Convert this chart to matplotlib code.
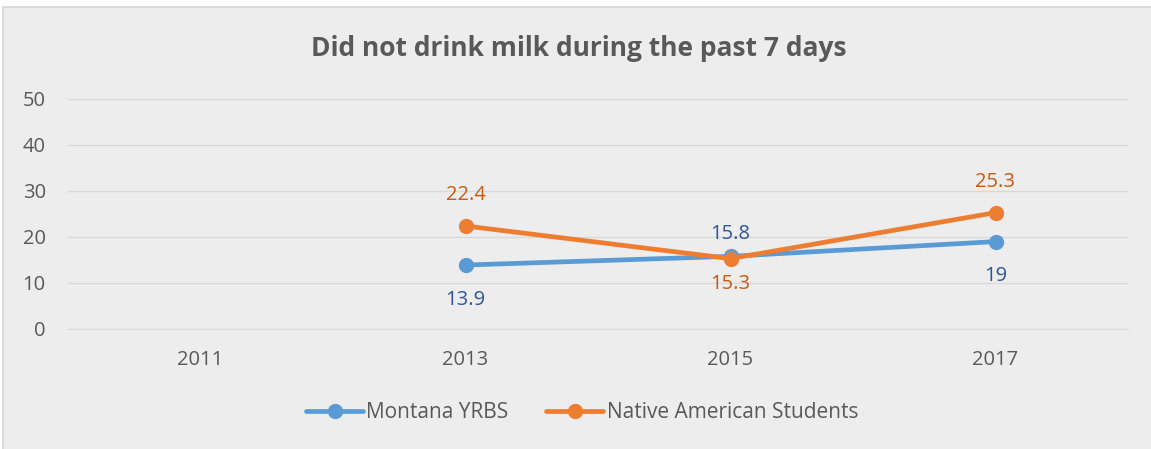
import matplotlib.pyplot as plt
import numpy as np
from matplotlib.patches import Rectangle

plt.rcParams['font.family'] = ['Open Sans', 'DejaVu Sans']

years = ['2011', '2013', '2015', '2017']
montana = [np.nan, 13.9, 15.8, 19]
native = [np.nan, 22.4, 15.3, 25.3]

# label offsets in points (positive = above the marker)
montana_off = [0, -25, 16, -25]
native_off = [0, 22, -18, 22]

bg = '#EDEDED'
W, H = 1151, 449
fig = plt.figure(figsize=(W / 100, H / 100), dpi=100, facecolor='white')
# chart area with thin border (only top/left edges visible in the crop)
fig.patches.append(Rectangle((3 / W, -0.05), 1.1, 1 - 7 / H + 0.05, transform=fig.transFigure,
                             facecolor=bg, edgecolor='#D4D4D4', lw=1.2, zorder=-10))
ax = fig.add_axes([68 / W, 120 / H, 1060 / W, 230 / H])
ax.patch.set_alpha(0)

x = np.arange(len(years))
ax.plot(x, montana, color='#5B9BD5', lw=3.4, marker='o', ms=10, label='Montana YRBS',
        solid_capstyle='round')
ax.plot(x, native, color='#ED7D31', lw=3.4, marker='o', ms=10, label='Native American Students',
        solid_capstyle='round')

for vals, offs, c in [(montana, montana_off, '#2F5597'), (native, native_off, '#C55A11')]:
    for xi, v, o in zip(x, vals, offs):
        if np.isnan(v):
            continue
        ax.annotate(f'{v:g}', (xi, v), xytext=(0, o), textcoords='offset points',
                    ha='center', va='center', fontsize=14.5, color=c)

ax.set_xlim(-0.5, 3.5)
ax.set_ylim(0, 50)
ax.set_yticks(range(0, 51, 10))
ax.set_xticks(x)
ax.set_xticklabels(years)
ax.grid(axis='y', color='#D9D9D9', lw=1)
ax.set_axisbelow(True)
for s in ax.spines.values():
    s.set_visible(False)
ax.spines['bottom'].set_visible(True)
ax.spines['bottom'].set_color('#D9D9D9')
ax.tick_params(length=0, labelsize=14.5, labelcolor='#595959')
ax.tick_params(axis='x', pad=15)
ax.tick_params(axis='y', pad=16)

fig.text(579 / W, 1 - 48 / H, 'Did not drink milk during the past 7 days', ha='center', va='center',
         fontsize=19, fontweight='bold', color='#595959')

fig.legend(loc='center', bbox_to_anchor=(582 / W, 1 - 413 / H), ncol=2, frameon=False,
           fontsize=15, labelcolor='#595959', handlelength=2.75, handletextpad=0.15,
           columnspacing=1.8)

fig.savefig('out.png', dpi=100, facecolor='white')
